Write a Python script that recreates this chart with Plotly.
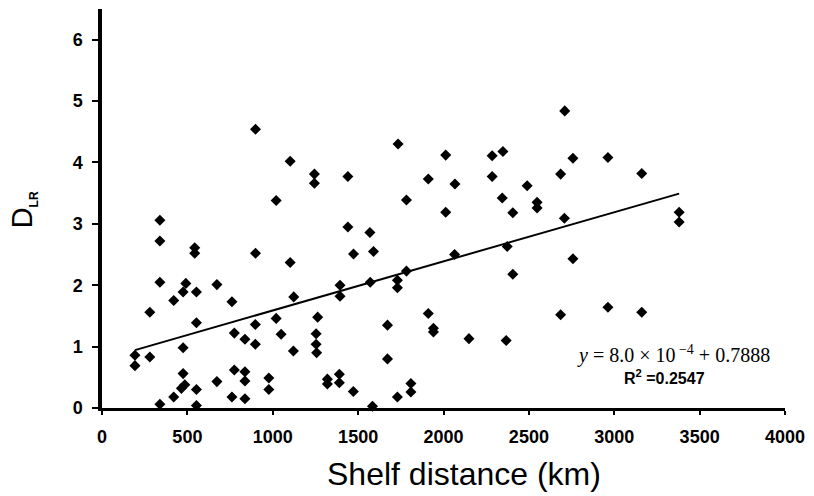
import plotly.graph_objects as go

# Data (Shelf distance in km, D_LR)
shelf_distance = [
    899, 1102, 1244, 1244, 1440, 1020, 1440, 339, 339, 543,
    543, 899, 1102, 339, 491, 475, 553, 673, 420, 761,
    280, 553, 1123, 1394, 1394, 898, 1020, 1263, 775, 1049,
    1254, 837, 898, 475, 1121, 1254, 1257, 193, 193, 280,
    475, 485, 465, 553, 673, 775, 837, 837, 977, 977,
    1320, 1320, 1390, 1390, 339, 420, 553, 761, 837, 1472,
    2710, 1734, 2013, 2285, 2348, 2758, 1911, 2067, 2285, 2490,
    2686, 1783, 2013, 2344, 2406, 2548, 2548, 2708, 1569, 1473,
    1590, 1571, 1730, 1730, 1783, 2065, 2373, 2406, 2758, 1672,
    1911, 1941, 1941, 2149, 2367, 2686, 1672, 1730, 1809, 1809,
    1584, 2963, 3161, 3380, 3380, 2963, 3161,
]
d_lr = [
    4.54, 4.02, 3.81, 3.66, 3.77, 3.38, 2.95, 3.06, 2.72, 2.61,
    2.52, 2.52, 2.37, 2.05, 2.03, 1.89, 1.89, 2.01, 1.75, 1.73,
    1.56, 1.39, 1.81, 2.00, 1.82, 1.36, 1.46, 1.48, 1.22, 1.20,
    1.21, 1.12, 1.04, 0.98, 0.93, 1.04, 0.90, 0.86, 0.69, 0.83,
    0.56, 0.38, 0.32, 0.30, 0.43, 0.62, 0.59, 0.44, 0.49, 0.30,
    0.47, 0.39, 0.55, 0.41, 0.06, 0.18, 0.04, 0.18, 0.15, 0.27,
    4.84, 4.30, 4.12, 4.11, 4.18, 4.07, 3.73, 3.65, 3.77, 3.62,
    3.81, 3.39, 3.19, 3.42, 3.18, 3.35, 3.26, 3.09, 2.86, 2.51,
    2.55, 2.05, 2.08, 1.96, 2.23, 2.50, 2.63, 2.18, 2.43, 1.35,
    1.54, 1.30, 1.24, 1.13, 1.10, 1.52, 0.80, 0.18, 0.40, 0.26,
    0.03, 4.08, 3.82, 3.19, 3.03, 1.64, 1.56,
]

# Linear fit as printed on the chart
slope = 8.0e-4
intercept = 0.7888
equation_text = "<i>y</i> = 8.0 × 10<sup> −4</sup> + 0.7888"
r2_text = "R<sup>2</sup> =0.2547"

x_ticks = [0, 500, 1000, 1500, 2000, 2500, 3000, 3500, 4000]
y_ticks = [0, 1, 2, 3, 4, 5, 6]

trend_x = [min(shelf_distance), max(shelf_distance)]
trend_y = [slope * v + intercept for v in trend_x]

fig = go.Figure()
fig.add_trace(go.Scatter(
    x=shelf_distance, y=d_lr, mode="markers",
    marker=dict(symbol="diamond", size=8.5, color="black", line=dict(width=0)),
    cliponaxis=False, showlegend=False,
))
fig.add_trace(go.Scatter(
    x=trend_x, y=trend_y, mode="lines",
    line=dict(color="black", width=2), showlegend=False,
))

tick_font = dict(family="Liberation Sans, Arial", size=18, color="black", weight="bold")

fig.update_layout(
    width=814, height=496,
    margin=dict(l=102, r=27, t=9, b=88),
    paper_bgcolor="white", plot_bgcolor="white",
    xaxis=dict(
        range=[0, 4000], tickvals=x_ticks, ticktext=[str(v) for v in x_ticks],
        showgrid=False, zeroline=False,
        showline=True, linecolor="black", linewidth=3,
        ticks="outside", ticklen=4, tickwidth=2, tickcolor="black",
        tickfont=tick_font, ticklabelstandoff=6,
    ),
    yaxis=dict(
        range=[0, 6.5], tickvals=y_ticks, ticktext=[str(v) for v in y_ticks],
        showgrid=False, zeroline=False,
        showline=True, linecolor="black", linewidth=3.5,
        ticks="outside", ticklen=6, tickwidth=2, tickcolor="black",
        tickfont=tick_font, ticklabelstandoff=6,
    ),
    annotations=[
        dict(text="Shelf distance (km)", xref="paper", yref="paper",
             x=0.53, y=-0.165, xanchor="center", yanchor="middle", showarrow=False,
             font=dict(family="Liberation Sans, Arial", size=32, color="black")),
        dict(text="D<sub><span style='font-size:12px;font-weight:bold'>LR</span></sub>",
             xref="paper", yref="paper",
             x=-0.1153, y=0.496, xanchor="center", yanchor="middle", showarrow=False,
             textangle=-90,
             font=dict(family="Liberation Sans, Arial", size=29, color="black")),
        dict(text=equation_text, xref="paper", yref="paper",
             x=0.8365, y=0.1353, xanchor="center", yanchor="middle", showarrow=False,
             font=dict(family="Liberation Serif, Times New Roman", size=20, color="black")),
        dict(text=r2_text, xref="paper", yref="paper",
             x=0.823, y=0.0777, xanchor="center", yanchor="middle", showarrow=False,
             font=dict(family="Liberation Sans, Arial", size=16, color="black", weight="bold")),
    ],
)

fig.write_html("out.html")
